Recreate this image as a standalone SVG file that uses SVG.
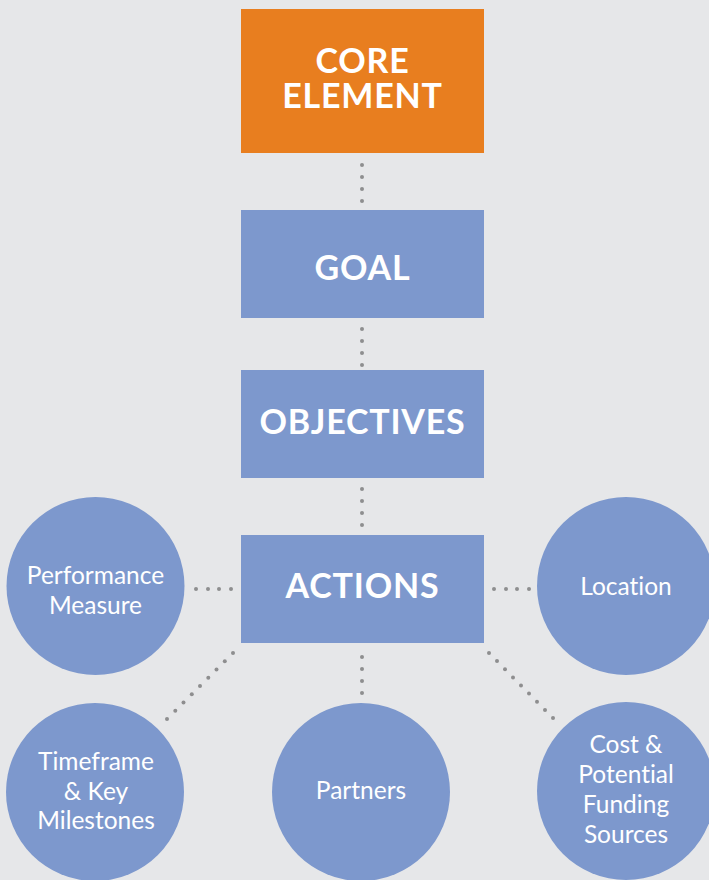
<svg xmlns="http://www.w3.org/2000/svg" width="709" height="880" viewBox="0 0 709 880">
<defs>
<style>
.bg{fill:#e6e7e9}
.core{fill:#e87e1f}
.box{fill:#7d98cd}
.circ{fill:#7d98cd}
.h{font-family:Lato,"Open Sans","DejaVu Sans",sans-serif;font-weight:700;font-size:34px;letter-spacing:0.8px;fill:#fff;text-anchor:middle}
.c{font-family:Lato,"Open Sans","DejaVu Sans",sans-serif;font-weight:400;font-size:24.5px;fill:#fff;text-anchor:middle;font-variant-ligatures:none}
#connectors circle{fill:#8e8e8f}
</style>
</defs>
<rect class="bg" x="0" y="0" width="709" height="880"/>
<g id="connectors">
<circle cx="362" cy="165" r="2"/><circle cx="362" cy="177" r="2"/><circle cx="362" cy="189" r="2"/><circle cx="362" cy="201" r="2"/>
<circle cx="362" cy="329" r="2"/><circle cx="362" cy="341" r="2"/><circle cx="362" cy="353" r="2"/><circle cx="362" cy="365" r="2"/>
<circle cx="362" cy="489" r="2"/><circle cx="362" cy="501" r="2"/><circle cx="362" cy="513" r="2"/><circle cx="362" cy="525" r="2"/>
<circle cx="362" cy="657" r="2"/><circle cx="362" cy="669" r="2"/><circle cx="362" cy="681" r="2"/><circle cx="362" cy="693" r="2"/>
<circle cx="196" cy="589" r="2"/><circle cx="208" cy="589" r="2"/><circle cx="219" cy="589" r="2"/><circle cx="231" cy="589" r="2"/>
<circle cx="494" cy="589" r="2"/><circle cx="506" cy="589" r="2"/><circle cx="517" cy="589" r="2"/><circle cx="529" cy="589" r="2"/>
<circle cx="233" cy="653" r="2"/><circle cx="224.8" cy="661.3" r="2"/><circle cx="216.5" cy="669.5" r="2"/><circle cx="208.3" cy="677.8" r="2"/><circle cx="200" cy="686" r="2"/><circle cx="191.8" cy="694.3" r="2"/><circle cx="183.5" cy="702.5" r="2"/><circle cx="175.3" cy="710.8" r="2"/><circle cx="167" cy="719" r="2"/>
<circle cx="489" cy="653" r="2"/><circle cx="497" cy="661.1" r="2"/><circle cx="505" cy="669.3" r="2"/><circle cx="513" cy="677.4" r="2"/><circle cx="521" cy="685.5" r="2"/><circle cx="529" cy="693.6" r="2"/><circle cx="537" cy="701.8" r="2"/><circle cx="545" cy="709.9" r="2"/><circle cx="553" cy="718" r="2"/>
</g>
<g id="core-element">
<rect class="core" x="241" y="9" width="243" height="144"/>
<text class="h" x="362.5" y="73">CORE</text>
<text class="h" x="362.5" y="108">ELEMENT</text>
</g>
<g id="goal">
<rect class="box" x="241" y="210" width="243" height="108"/>
<text class="h" x="362.5" y="280">GOAL</text>
</g>
<g id="objectives">
<rect class="box" x="241" y="370" width="243" height="108"/>
<text class="h" x="362.5" y="434">OBJECTIVES</text>
</g>
<g id="actions">
<rect class="box" x="241" y="535" width="243" height="108"/>
<text class="h" x="362.5" y="598">ACTIONS</text>
</g>
<g id="performance-measure">
<circle class="circ" cx="95.5" cy="586" r="89"/>
<text class="c" x="95.5" y="584">Performance</text>
<text class="c" x="95.5" y="614">Measure</text>
</g>
<g id="location">
<circle class="circ" cx="626" cy="586" r="89"/>
<text class="c" x="626" y="595">Location</text>
</g>
<g id="timeframe">
<circle class="circ" cx="95" cy="792" r="89"/>
<text class="c" x="96" y="770">Timeframe</text>
<text class="c" x="96" y="800">&amp; Key</text>
<text class="c" x="96" y="829">Milestones</text>
</g>
<g id="partners">
<circle class="circ" cx="361" cy="792" r="89"/>
<text class="c" x="361" y="799">Partners</text>
</g>
<g id="cost">
<circle class="circ" cx="626" cy="791" r="89"/>
<text class="c" x="626" y="753">Cost &amp;</text>
<text class="c" x="626" y="783">Potential</text>
<text class="c" x="626" y="813">Funding</text>
<text class="c" x="626" y="843">Sources</text>
</g>
</svg>
